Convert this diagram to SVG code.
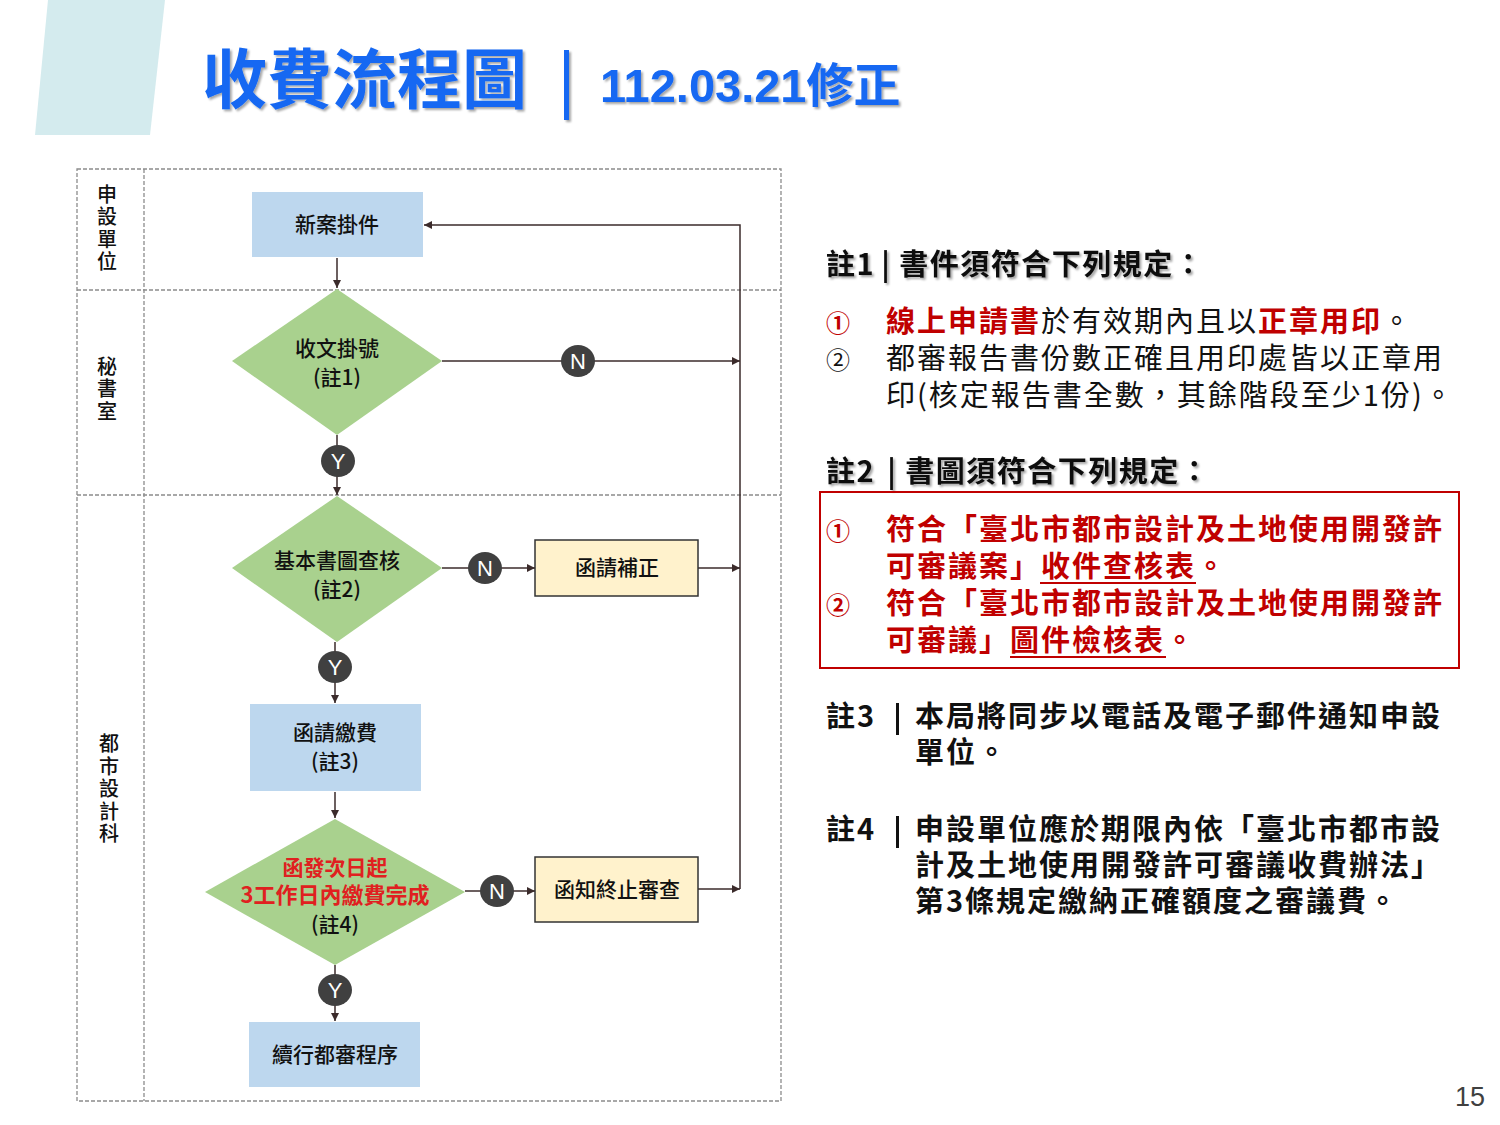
<svg xmlns="http://www.w3.org/2000/svg" width="1500" height="1125" viewBox="0 0 1500 1125">
<defs>
<marker id="arr" viewBox="0 0 10 10" refX="10" refY="5" markerWidth="8" markerHeight="8" markerUnits="userSpaceOnUse" orient="auto">
<path d="M0,0 L10,5 L0,10 z" fill="#3b2b2b"/>
</marker>
<filter id="sh" x="-5%" y="-10%" width="110%" height="130%">
<feDropShadow dx="2" dy="2" stdDeviation="1.2" flood-color="#000" flood-opacity="0.35"/>
</filter>
</defs>
<style>
.cjk{font-family:"Noto Sans CJK TC","Noto Sans CJK SC",sans-serif}
.lane{fill:none;stroke:#8c8c8c;stroke-width:1.3;stroke-dasharray:4 2}
.lbl{font-family:"Noto Sans CJK TC",sans-serif;font-size:20px;fill:#111;text-anchor:middle;font-weight:500;writing-mode:vertical-rl;letter-spacing:2.5px}
.blue{fill:#bdd7ee}
.yel{fill:#fff2cc;stroke:#333;stroke-width:1.5}
.dia{fill:#a9d18e}
.nt{font-family:"Noto Sans CJK TC",sans-serif;font-size:21px;fill:#111;text-anchor:middle;font-weight:500}
.con{fill:none;stroke:#3b2b2b;stroke-width:1.5}
.yn{fill:#404040}
.ynt{font-family:"Liberation Sans",Arial,sans-serif;font-size:22px;fill:#fff;text-anchor:middle}
.note{font-family:"Noto Sans CJK TC",sans-serif;font-size:29px;letter-spacing:2px}
.hd{font-family:"Noto Sans CJK TC",sans-serif;font-size:29px;font-weight:700;fill:#111;letter-spacing:1.5px}
.red{fill:#c00000}
</style>
<rect width="1500" height="1125" fill="#fff"/>
<polygon points="48,0 165,0 150,135 35,135" fill="#d4ebee"/>
<g id="title" filter="url(#sh)" fill="#1668f2" class="cjk" font-weight="700">
<text x="202" y="103" font-size="65">收費流程圖</text>
<rect x="564" y="50" width="5" height="70"/>
<text x="600" y="102" font-size="47" font-family="Liberation Sans, Noto Sans CJK TC, sans-serif">112.03.21<tspan font-family="Noto Sans CJK TC, sans-serif">修正</tspan></text>
</g>

<g id="swimlanes">
<rect class="lane" x="77" y="169" width="704" height="932"/>
<line class="lane" x1="144" y1="169" x2="144" y2="1101"/>
<line class="lane" x1="77" y1="290" x2="781" y2="290"/>
<line class="lane" x1="77" y1="495" x2="781" y2="495"/>
<text class="lbl" x="107" y="229">申設單位</text>
<text class="lbl" x="107" y="390">秘書室</text>
<text class="lbl" x="109" y="790">都市設計科</text>
</g>

<g id="connectors">
<line class="con" x1="337" y1="258" x2="337" y2="288" marker-end="url(#arr)"/>
<line class="con" x1="442" y1="361" x2="740" y2="361" marker-end="url(#arr)"/>
<line class="con" x1="337" y1="435" x2="337" y2="495" marker-end="url(#arr)"/>
<line class="con" x1="442" y1="568" x2="535" y2="568" marker-end="url(#arr)"/>
<line class="con" x1="698" y1="568" x2="740" y2="568" marker-end="url(#arr)"/>
<line class="con" x1="335" y1="642" x2="335" y2="703" marker-end="url(#arr)"/>
<line class="con" x1="335" y1="792" x2="335" y2="818" marker-end="url(#arr)"/>
<line class="con" x1="465" y1="891" x2="535" y2="891" marker-end="url(#arr)"/>
<line class="con" x1="698" y1="889" x2="740" y2="889" marker-end="url(#arr)"/>
<line class="con" x1="335" y1="965" x2="335" y2="1021" marker-end="url(#arr)"/>
<polyline class="con" points="740,889 740,225 424,225" marker-end="url(#arr)"/>
<ellipse class="yn" cx="578" cy="361" rx="17" ry="16"/>
<text class="ynt" x="578" y="369">N</text>
<ellipse class="yn" cx="338" cy="461" rx="17" ry="16"/>
<text class="ynt" x="338" y="469">Y</text>
<ellipse class="yn" cx="485" cy="568" rx="17" ry="16"/>
<text class="ynt" x="485" y="576">N</text>
<ellipse class="yn" cx="335" cy="667" rx="17" ry="16"/>
<text class="ynt" x="335" y="675">Y</text>
<ellipse class="yn" cx="497" cy="891" rx="17" ry="16"/>
<text class="ynt" x="497" y="899">N</text>
<ellipse class="yn" cx="335" cy="990" rx="17" ry="16"/>
<text class="ynt" x="335" y="998">Y</text>
</g>

<g id="n1">
<rect class="blue" x="252" y="192" width="171" height="65"/>
<text class="nt" x="337" y="232">新案掛件</text>
</g>
<g id="n2">
<polygon class="dia" points="337,289 442,361 337,435 232,361"/>
<text class="nt" x="337" y="356">收文掛號</text>
<text class="nt" x="337" y="385">(註1)</text>
</g>
<g id="n3">
<polygon class="dia" points="337,496 442,568 337,642 232,568"/>
<text class="nt" x="337" y="568">基本書圖查核</text>
<text class="nt" x="337" y="597">(註2)</text>
</g>
<g id="n4">
<rect class="yel" x="535" y="540" width="163" height="56"/>
<text class="nt" x="617" y="575">函請補正</text>
</g>
<g id="n5">
<rect class="blue" x="250" y="704" width="171" height="87"/>
<text class="nt" x="335" y="740">函請繳費</text>
<text class="nt" x="335" y="769">(註3)</text>
</g>
<g id="n6">
<polygon class="dia" points="335,819 465,892 335,965 205,892"/>
<text class="nt" x="335" y="875" style="fill:#e02020;font-weight:700">函發次日起</text>
<text class="nt" x="335" y="903" style="fill:#e02020;font-weight:700;font-size:22px">3工作日內繳費完成</text>
<text class="nt" x="335" y="932">(註4)</text>
</g>
<g id="n7">
<rect class="yel" x="535" y="857" width="163" height="65"/>
<text class="nt" x="617" y="897">函知終止審查</text>
</g>
<g id="n8">
<rect class="blue" x="249" y="1022" width="171" height="65"/>
<text class="nt" x="335" y="1062">續行都審程序</text>
</g>

<g id="notes">
<g filter="url(#sh)">
<text class="hd" x="826" y="275">註1<tspan dx="6">|</tspan><tspan dx="8">書件須符合下列規定：</tspan></text>
<text class="hd" x="826" y="482">註2<tspan dx="12">|</tspan><tspan dx="8">書圖須符合下列規定：</tspan></text>
</g>
<text class="note" x="826" y="332"><tspan class="red" font-size="24" font-weight="700">①</tspan><tspan x="886" class="red" font-weight="700">線上申請書</tspan><tspan fill="#111">於有效期內且以</tspan><tspan class="red" font-weight="700">正章用印</tspan><tspan fill="#111">。</tspan></text>
<text class="note" x="826" y="369" fill="#111"><tspan font-size="24">②</tspan><tspan x="886">都審報告書份數正確且用印處皆以正章用</tspan></text>
<text class="note" x="886" y="406" fill="#111">印(核定報告書全數，其餘階段至少1份)。</text>

<rect x="820" y="492" width="639" height="176" fill="none" stroke="#c00000" stroke-width="2"/>
<g class="red" font-weight="700">
<text class="note" x="826" y="540"><tspan font-size="24">①</tspan><tspan x="886">符合「臺北市都市設計及土地使用開發許</tspan></text>
<text class="note" x="886" y="577">可審議案」收件查核表。</text>
<text class="note" x="826" y="614"><tspan font-size="24">②</tspan><tspan x="886">符合「臺北市都市設計及土地使用開發許</tspan></text>
<text class="note" x="886" y="651">可審議」圖件檢核表。</text>
<rect x="1040" y="582" width="156" height="2"/>
<rect x="1010" y="656" width="156" height="2"/>
</g>

<g fill="#111" font-weight="700">
<text class="note" x="826" y="727">註3</text>
<rect x="896" y="703" width="3" height="32"/>
<text class="note" x="915" y="727">本局將同步以電話及電子郵件通知申設</text>
<text class="note" x="915" y="763">單位。</text>
<text class="note" x="826" y="840">註4</text>
<rect x="896" y="816" width="3" height="32"/>
<text class="note" x="915" y="840">申設單位應於期限內依「臺北市都市設</text>
<text class="note" x="915" y="876">計及土地使用開發許可審議收費辦法」</text>
<text class="note" x="915" y="912">第3條規定繳納正確額度之審議費。</text>
</g>
</g>
<text x="1485" y="1106" text-anchor="end" font-family="Liberation Sans, Arial, sans-serif" font-size="27" fill="#404040">15</text>
</svg>
